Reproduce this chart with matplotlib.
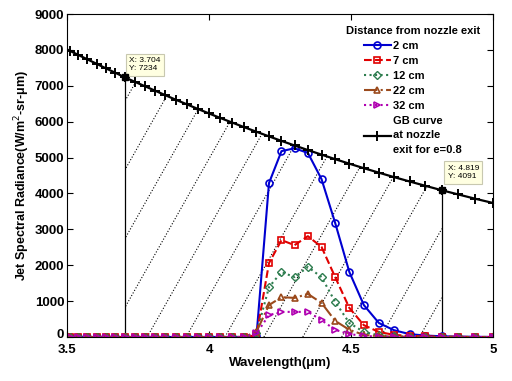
import numpy as np
import matplotlib
matplotlib.use('Agg')
import matplotlib.pyplot as plt
import matplotlib.transforms as mtransforms
from matplotlib.patches import Polygon

plt.rcParams['font.family'] = ['Liberation Sans', 'DejaVu Sans']

# wavelength grid (um)
wl = [3.478, 3.509, 3.540, 3.571, 3.604, 3.636, 3.670, 3.704, 3.738, 3.774,
      3.810, 3.846, 3.883, 3.922, 3.960, 4.000, 4.040, 4.082, 4.124, 4.167,
      4.211, 4.255, 4.301, 4.348, 4.396, 4.444, 4.494, 4.545, 4.598, 4.651,
      4.706, 4.762, 4.819, 4.878, 4.938, 5.000]

# grey body curve at nozzle exit (e=0.8)
gb = [8100, 7980, 7860, 7740, 7615, 7490, 7365, 7234, 7115, 6990,
      6865, 6740, 6612, 6485, 6358, 6230, 6103, 5975, 5847, 5720,
      5592, 5465, 5338, 5210, 5083, 4957, 4830, 4705, 4580, 4457,
      4335, 4213, 4091, 3972, 3852, 3735]

zeros = [0] * 19
cm2 = zeros + [30, 4290, 5180, 5260, 5130, 4400, 3180, 1810, 890, 390, 190, 80, 40, 20, 10, 5, 0]
cm7 = zeros + [50, 2060, 2700, 2560, 2810, 2510, 1670, 810, 330, 140, 60, 30, 20, 10, 5, 0, 0]
cm12 = zeros + [100, 1390, 1810, 1670, 1950, 1670, 980, 390, 140, 50, 20, 10, 5, 0, 0, 0, 0]
cm22 = zeros + [150, 890, 1110, 1090, 1200, 950, 450, 200, 60, 20, 10, 5, 0, 0, 0, 0, 0]
cm32 = zeros + [100, 610, 700, 700, 700, 470, 200, 80, 30, 10, 5, 0, 0, 0, 0, 0, 0]

tip1, tip2 = 7, 32  # data cursor points

fig = plt.figure(figsize=(5.12, 3.81), dpi=100)
ax = fig.add_axes([0.131, 0.1155, 0.832, 0.8475])

# hatched region under the GB curve between the two cursors
poly = [(wl[tip1], 0)] + [(wl[i], gb[i]) for i in range(tip1, tip2 + 1)] + [(wl[tip2], 0)]
clip = Polygon(poly, closed=True, transform=ax.transData, fill=False, edgecolor='none')
ax.add_patch(clip)
slope = 14000.0
for x0 in np.arange(3.782 - 6 * 0.137, 4.9, 0.137):
    ln, = ax.plot([x0, x0 + 9000 / slope], [0, 9000], ':', color='black', lw=0.8)
    ln.set_clip_path(clip)
ax.plot([wl[tip1], wl[tip1]], [0, gb[tip1]], color='black', lw=0.9)
ax.plot([wl[tip2], wl[tip2]], [0, gb[tip2]], color='black', lw=0.9)

ms = 5
ax.plot(wl, cm2, 'o-', color='#0000d0', mfc='none', ms=ms, lw=1.5, mew=1.2, label='2 cm')
ax.plot(wl, cm7, 's--', color='#e00000', mfc='none', ms=ms, lw=1.5, mew=1.2, label='7 cm')
ax.plot(wl, cm12, 'D:', color='#2e7d4f', mfc='none', ms=4.5, lw=1.5, mew=1.0, label='12 cm')
ax.plot(wl, cm22, '^-.', color='#9b4a1c', mfc='none', ms=ms, lw=1.5, mew=1.2, label='22 cm')
ax.plot(wl, cm32, '>:', color='#b000b0', mfc='none', ms=ms, lw=1.5, mew=1.2, label='32 cm')
ax.plot(wl, gb, '+-', color='black', ms=7, lw=1.6, mew=1.4,
        label='GB curve\nat nozzle\nexit for e=0.8')

# data cursors
for i, off in [(tip1, (4, 5)), (tip2, (6, 10))]:
    ax.plot(wl[i], gb[i], 's', color='black', ms=5, zorder=5)
    ax.annotate('X: %.3f\nY: %d' % (wl[i], gb[i]), (wl[i], gb[i]),
                xytext=off, textcoords='offset pixels', ha='left', va='bottom',
                fontsize=6, linespacing=1.3,
                bbox=dict(boxstyle='square,pad=0.4', fc='#ffffe1', ec='#c8c8b0', lw=0.8))

ax.set_xlim(3.5, 5)
ax.set_ylim(0, 9000)
ax.set_xticks([3.5, 4, 4.5, 5])
ax.set_xticklabels(['3.5', '4', '4.5', '5'])
ax.set_yticks(range(0, 9001, 1000))
ax.tick_params(direction='in', top=True, right=True, length=4, labelsize=9.5, pad=2)
ax.tick_params(axis='x', pad=5)
for t in ax.get_xticklabels() + ax.get_yticklabels():
    t.set_fontweight('bold')
# nudge the "0" label up a little so it clears "3.5"
lab0 = ax.yaxis.get_major_ticks()[0].label1
lab0.set_transform(lab0.get_transform() + mtransforms.ScaledTranslation(0, 3 / 100, fig.dpi_scale_trans))
ax.set_xlabel('Wavelength(\u03bcm)', fontsize=9.5, fontweight='bold', labelpad=1)
ax.set_ylabel('Jet Spectral Radiance(W/m$^{2}$-sr-\u03bcm)', fontsize=9, fontweight='bold', labelpad=2)

leg = ax.legend(loc='upper right', bbox_to_anchor=(0.985, 0.985), frameon=False,
                title='Distance from nozzle exit', fontsize=8, handlelength=2.4,
                handletextpad=0.2, labelspacing=0.45, borderaxespad=0.2)
leg.get_title().set_fontweight('bold')
leg.get_title().set_fontsize(8)
for t in leg.get_texts():
    t.set_fontweight('bold')
    t.set_linespacing(1.6)

fig.savefig('out.png', dpi=100)
